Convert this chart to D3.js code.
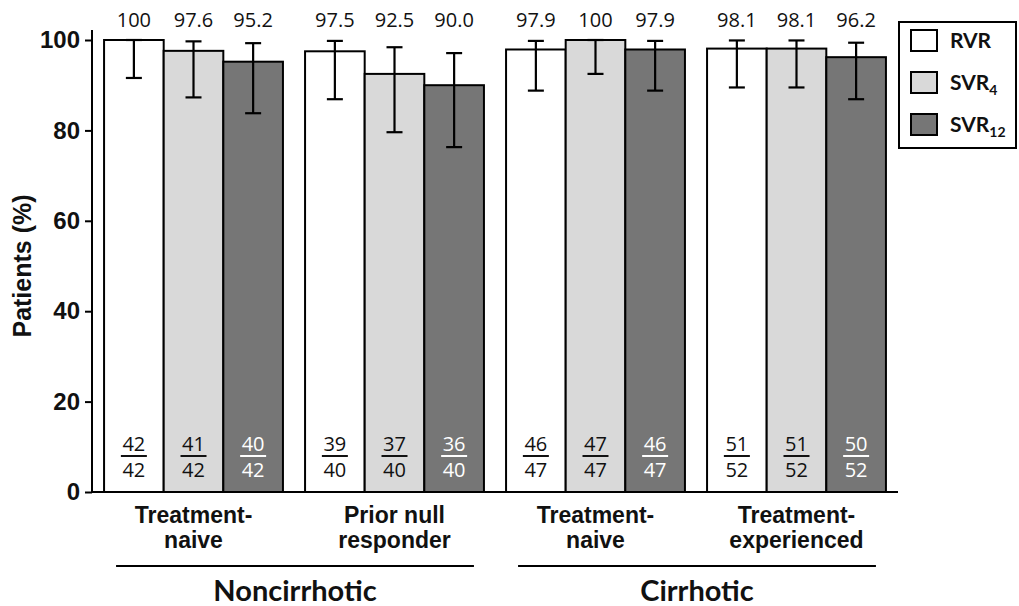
<!DOCTYPE html>
<html>
<head>
<meta charset="utf-8">
<script src="https://cdn.jsdelivr.net/npm/d3@7"></script>
<style>
  body { margin: 0; background: #fff; }
  svg { display: block; }
</style>
</head>
<body>
<div id="chart"></div>
<script>
// ---- data ----
const groups = ["g1", "g2", "g3", "g4"]
const groupLabels = [["Treatment-", "naive"], ["Prior null", "responder"], ["Treatment-", "naive"], ["Treatment-", "experienced"]]
const series = ["RVR", "SVR4", "SVR12"]
const seriesColors = ["#ffffff", "#d9d9d9", "#767676"]
const legendMain = ["RVR", "SVR", "SVR"]
const legendSub = ["", "4", "12"]

const rvr = [100, 97.5, 97.9, 98.1]
const svr4 = [97.6, 92.5, 100, 98.1]
const svr12 = [95.2, 90.0, 97.9, 96.2]
const valueLabels = [["100", "97.6", "95.2"], ["97.5", "92.5", "90.0"], ["97.9", "100", "97.9"], ["98.1", "98.1", "96.2"]]

// 95% CI ends
const ciLow = [[91.6, 87.3, 83.8], [86.9, 79.6, 76.3], [88.8, 92.5, 88.8], [89.5, 89.5, 86.9]]
const ciHigh = [[100, 99.7, 99.3], [99.8, 98.4, 97.1], [99.8, 100, 99.8], [99.9, 99.9, 99.4]]

const numer = [[42, 41, 40], [39, 37, 36], [46, 47, 46], [51, 51, 50]]
const denom = [[42, 42, 42], [40, 40, 40], [47, 47, 47], [52, 52, 52]]

const clusters = ["Noncirrhotic", "Cirrhotic"]
const clusterGroups = [["g1", "g2"], ["g3", "g4"]]

const yTicks = [0, 20, 40, 60, 80, 100]

// ---- layout ----
const width = 1019, height = 606
const numFont = "'Open Sans', sans-serif"
const boldFont = "'Liberation Sans', Arial, sans-serif"
const calFont = "Lato, 'Open Sans', sans-serif"

const svg = d3.select("#chart").append("svg")
    .attr("width", width)
    .attr("height", height)

const x0 = d3.scaleBand().domain(groups).range([92, 898]).paddingInner(0.11).paddingOuter(0.06)
const x1 = d3.scaleBand().domain(series).range([0, x0.bandwidth()])
const y = d3.scaleLinear().domain([0, 100]).range([492, 40])

const allVals = [rvr, svr4, svr12]

// bars
groups.forEach((g, gi) => {
    series.forEach((s, si) => {
        let v = allVals[si][gi]
        let bx = x0(g) + x1(s)
        svg.append("rect")
            .attr("x", bx)
            .attr("y", y(v))
            .attr("width", x1.bandwidth())
            .attr("height", y(0) - y(v))
            .attr("fill", seriesColors[si])
            .attr("stroke", "#000")
            .attr("stroke-width", 2)
    })
})

// error bars + labels
groups.forEach((g, gi) => {
    series.forEach((s, si) => {
        let cx = x0(g) + x1(s) + x1.bandwidth() / 2
        let lo = ciLow[gi][si], hi = ciHigh[gi][si]
        let eb = svg.append("g").attr("stroke", "#000").attr("stroke-width", 2.2)
        eb.append("line").attr("x1", cx).attr("x2", cx).attr("y1", y(lo)).attr("y2", y(hi))
        eb.append("line").attr("x1", cx - 8).attr("x2", cx + 8).attr("y1", y(lo)).attr("y2", y(lo))
        eb.append("line").attr("x1", cx - 8).attr("x2", cx + 8).attr("y1", y(hi)).attr("y2", y(hi))

        // value on top
        svg.append("text")
            .attr("x", cx)
            .attr("y", 27)
            .attr("text-anchor", "middle")
            .attr("font-family", numFont)
            .attr("font-size", 20)
            .attr("fill", "#111")
            .text(valueLabels[gi][si])

        // n / N at the bottom
        let fc = si == 2 ? "#fff" : "#111"
        svg.append("text")
            .attr("x", cx)
            .attr("y", 451)
            .attr("text-anchor", "middle")
            .attr("font-family", numFont)
            .attr("font-size", 20)
            .attr("fill", fc)
            .text(numer[gi][si])
        svg.append("line")
            .attr("x1", cx - 13).attr("x2", cx + 13)
            .attr("y1", 456).attr("y2", 456)
            .attr("stroke", fc)
            .attr("stroke-width", 2)
        svg.append("text")
            .attr("x", cx)
            .attr("y", 477)
            .attr("text-anchor", "middle")
            .attr("font-family", numFont)
            .attr("font-size", 20)
            .attr("fill", fc)
            .text(denom[gi][si])
    })
})

// y axis
const yAxis = svg.append("g")
    .attr("transform", "translate(92,0)")
    .call(d3.axisLeft(y).tickValues(yTicks).tickSize(7).tickSizeOuter(0).tickPadding(5))
yAxis.select(".domain").attr("d", "M0," + y(0) + "V" + y(102.2)).attr("stroke-width", 2)
yAxis.selectAll(".tick line").attr("stroke-width", 2)
yAxis.selectAll(".tick text")
    .attr("font-family", boldFont)
    .attr("font-weight", "bold")
    .attr("font-size", 24)
    .attr("fill", "#111")

// x axis line
svg.append("line")
    .attr("x1", 92).attr("x2", 898)
    .attr("y1", y(0)).attr("y2", y(0))
    .attr("stroke", "#000")
    .attr("stroke-width", 2)

svg.append("text")
    .attr("transform", "translate(31," + y(50) + ") rotate(-90)")
    .attr("text-anchor", "middle")
    .attr("font-family", boldFont)
    .attr("font-weight", "bold")
    .attr("font-size", 25)
    .attr("fill", "#111")
    .text("Patients (%)")

// category labels
groups.forEach((g, gi) => {
    let t = svg.append("text")
        .attr("x", x0(g) + x0.bandwidth() / 2)
        .attr("y", 523)
        .attr("text-anchor", "middle")
        .attr("font-family", boldFont)
        .attr("font-weight", "bold")
        .attr("font-size", 23)
        .attr("fill", "#111")
    groupLabels[gi].forEach((line, li) => {
        t.append("tspan")
            .attr("x", x0(g) + x0.bandwidth() / 2)
            .attr("dy", li == 0 ? 0 : 25)
            .text(line)
    })
})

// cluster lines + labels
clusters.forEach((c, ci) => {
    let a = x0(clusterGroups[ci][0]) + 12
    let b = x0(clusterGroups[ci][1]) + x0.bandwidth() - 10
    svg.append("line")
        .attr("x1", a).attr("x2", b)
        .attr("y1", 566).attr("y2", 566)
        .attr("stroke", "#000")
        .attr("stroke-width", 2)
    svg.append("text")
        .attr("x", (a + b) / 2)
        .attr("y", 601)
        .attr("text-anchor", "middle")
        .attr("font-family", calFont)
        .attr("font-weight", "bold")
        .attr("font-size", 29)
        .attr("fill", "#111")
        .text(c)
})

// legend
const legend = svg.append("g")
legend.append("rect")
    .attr("x", 899).attr("y", 22)
    .attr("width", 117).attr("height", 126)
    .attr("fill", "#fff")
    .attr("stroke", "#000")
    .attr("stroke-width", 2)
series.forEach((s, si) => {
    let ly = 30 + si * 42
    legend.append("rect")
        .attr("x", 911).attr("y", ly)
        .attr("width", 26).attr("height", 21)
        .attr("fill", seriesColors[si])
        .attr("stroke", "#000")
        .attr("stroke-width", 2)
    let t = legend.append("text")
        .attr("x", 950)
        .attr("y", ly + 18)
        .attr("font-family", calFont)
        .attr("font-weight", "bold")
        .attr("font-size", 21)
        .attr("fill", "#111")
    t.append("tspan").text(legendMain[si])
    if (legendSub[si]) {
        t.append("tspan")
            .attr("font-size", 14)
            .attr("dy", 5)
            .text(legendSub[si])
    }
})
</script>
</body>
</html>
